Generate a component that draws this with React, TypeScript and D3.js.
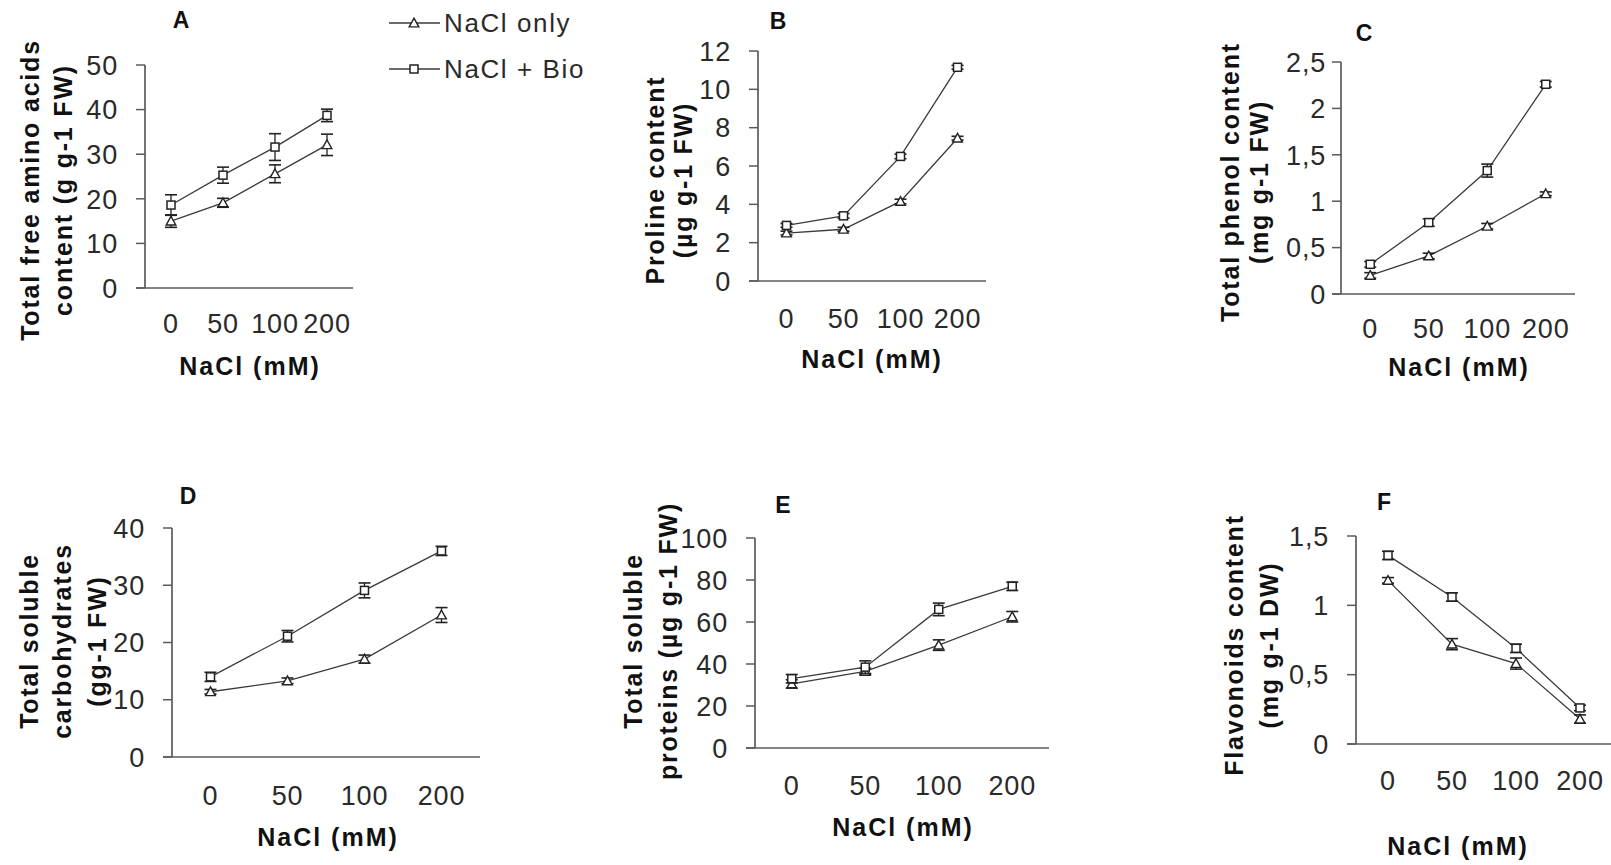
import React from "react";
import * as d3 from "d3";

const categories = ["0", "50", "100", "200"];

const aOnly = [15.0, 19.1, 25.6, 32.1];
const aOnlyErr = [1.4, 1.0, 2.0, 2.4];
const aBio = [18.6, 25.3, 31.6, 38.7];
const aBioErr = [2.3, 1.8, 3.0, 1.4];

const bOnly = [2.5, 2.7, 4.15, 7.45];
const bOnlyErr = [0.1, 0.1, 0.12, 0.1];
const bBio = [2.9, 3.4, 6.5, 11.15];
const bBioErr = [0.1, 0.12, 0.12, 0.1];

const cOnly = [0.2, 0.41, 0.73, 1.08];
const cOnlyErr = [0.03, 0.03, 0.03, 0.02];
const cBio = [0.32, 0.77, 1.33, 2.26];
const cBioErr = [0.03, 0.04, 0.07, 0.03];

const dOnly = [11.4, 13.3, 17.1, 24.8];
const dOnlyErr = [0.4, 0.5, 0.7, 1.3];
const dBio = [14.0, 21.1, 29.1, 36.0];
const dBioErr = [0.8, 1.0, 1.3, 0.8];

const eOnly = [30.5, 36.5, 49, 62.5];
const eOnlyErr = [2, 1.5, 2.5, 2.5];
const eBio = [33, 38.5, 66, 77];
const eBioErr = [2, 3, 3, 2];

const fOnly = [1.18, 0.72, 0.58, 0.18];
const fOnlyErr = [0.02, 0.04, 0.04, 0.03];
const fBio = [1.36, 1.06, 0.69, 0.26];
const fBioErr = [0.03, 0.03, 0.03, 0.02];

const aTicks = [0, 10, 20, 30, 40, 50];
const bTicks = [0, 2, 4, 6, 8, 10, 12];
const cTicks = [0, 0.5, 1, 1.5, 2, 2.5];
const dTicks = [0, 10, 20, 30, 40];
const eTicks = [0, 20, 40, 60, 80, 100];
const fTicks = [0, 0.5, 1, 1.5];

const legendLabels = ["NaCl only", "NaCl + Bio"];
const xTitle = "NaCl (mM)";

const fmt = (v: number) => d3.format("~g")(v).replace(".", ",");

type Panel = {
  title: string;
  only: number[]; onlyErr: number[]; bio: number[]; bioErr: number[];
  ticks: number[];
  yLabel: string[];
  axisX: number; y0: number; yTop: number; band: number;
  titlePos: [number, number]; xLabelPos: [number, number]; xTickY: number;
  tickGap: number; yLabelX: number[]; yLabelCy: number;
};

const panels: Panel[] = [
  { title: "A", only: aOnly, onlyErr: aOnlyErr, bio: aBio, bioErr: aBioErr, ticks: aTicks,
    yLabel: ["Total free amino  acids", "content (g g-1 FW)"],
    axisX: 145, y0: 288, yTop: 65, band: 52, titlePos: [181, 28], xLabelPos: [250, 375], xTickY: 333,
    tickGap: 27, yLabelX: [39, 72], yLabelCy: 190 },
  { title: "B", only: bOnly, onlyErr: bOnlyErr, bio: bBio, bioErr: bBioErr, ticks: bTicks,
    yLabel: ["Proline content", "(\u00b5g g-1 FW)"],
    axisX: 758, y0: 281, yTop: 51, band: 57, titlePos: [778, 29], xLabelPos: [872, 368], xTickY: 328,
    tickGap: 27, yLabelX: [664, 692], yLabelCy: 180 },
  { title: "C", only: cOnly, onlyErr: cOnlyErr, bio: cBio, bioErr: cBioErr, ticks: cTicks,
    yLabel: ["Total phenol content", "(mg g-1 FW)"],
    axisX: 1341, y0: 294, yTop: 62, band: 58.5, titlePos: [1364, 41], xLabelPos: [1459, 376], xTickY: 338,
    tickGap: 15, yLabelX: [1239, 1268], yLabelCy: 182 },
  { title: "D", only: dOnly, onlyErr: dOnlyErr, bio: dBio, bioErr: dBioErr, ticks: dTicks,
    yLabel: ["Total soluble", "carbohydrates", "(gg-1 FW)"],
    axisX: 172, y0: 757, yTop: 528, band: 77, titlePos: [188, 504], xLabelPos: [328, 846], xTickY: 805,
    tickGap: 27, yLabelX: [38, 71, 106], yLabelCy: 641 },
  { title: "E", only: eOnly, onlyErr: eOnlyErr, bio: eBio, bioErr: eBioErr, ticks: eTicks,
    yLabel: ["Total soluble", "proteins  (\u00b5g g-1 FW)"],
    axisX: 755, y0: 748, yTop: 538, band: 73.5, titlePos: [783, 513], xLabelPos: [903, 836], xTickY: 795,
    tickGap: 27, yLabelX: [642, 677], yLabelCy: 641 },
  { title: "F", only: fOnly, onlyErr: fOnlyErr, bio: fBio, bioErr: fBioErr, ticks: fTicks,
    yLabel: ["Flavonoids content", "(mg g-1 DW)"],
    axisX: 1356, y0: 744, yTop: 536, band: 64, titlePos: [1384, 510], xLabelPos: [1458, 855], xTickY: 790,
    tickGap: 27, yLabelX: [1243, 1278], yLabelCy: 645 },
];

const FONT = "'Liberation Sans', Arial, Helvetica, sans-serif";
const AXIS = "#5a5a5a";
const LINE = "#3a3a3a";
const MARK = "#222";
const TICKTXT = "#2a2a2a";

function Triangle({ x, y }: { x: number; y: number }) {
  const s = 4.8;
  return <path d={`M${x},${y - s}L${x + s},${y + s * 0.8}L${x - s},${y + s * 0.8}Z`} fill="#fff" stroke={MARK} strokeWidth={1.4} />;
}
function Square({ x, y }: { x: number; y: number }) {
  const s = 4;
  return <rect x={x - s} y={y - s} width={2 * s} height={2 * s} fill="#fff" stroke={MARK} strokeWidth={1.5} />;
}

function Series({ vals, errs, x, y, kind }: { vals: number[]; errs: number[]; x: (c: string) => number; y: d3.ScaleLinear<number, number>; kind: "tri" | "sq" }) {
  const line = d3.line<number>().x((_, i) => x(categories[i])).y((v) => y(v));
  return (
    <g>
      <path d={line(vals) || ""} fill="none" stroke={LINE} strokeWidth={1.3} />
      {vals.map((v, i) => {
        const cx = x(categories[i]);
        const hi = y(v + errs[i]);
        const lo = y(v - errs[i]);
        return (
          <g key={i}>
            <line x1={cx} x2={cx} y1={hi} y2={lo} stroke={MARK} strokeWidth={1.3} />
            <line x1={cx - 6} x2={cx + 6} y1={hi} y2={hi} stroke={MARK} strokeWidth={1.6} />
            <line x1={cx - 6} x2={cx + 6} y1={lo} y2={lo} stroke={MARK} strokeWidth={1.6} />
            {kind === "tri" ? <Triangle x={cx} y={y(v)} /> : <Square x={cx} y={y(v)} />}
          </g>
        );
      })}
    </g>
  );
}

function PanelView({ p }: { p: Panel }) {
  const y = d3.scaleLinear().domain([0, p.ticks[p.ticks.length - 1]]).range([p.y0, p.yTop]);
  const xb = d3.scaleBand().domain(categories).range([p.axisX, p.axisX + p.band * categories.length]);
  const x = (c: string) => (xb(c) as number) + xb.bandwidth() / 2;
  const right = p.axisX + p.band * categories.length;
  return (
    <g>
      <text x={p.titlePos[0]} y={p.titlePos[1]} textAnchor="middle" fontFamily={FONT} fontWeight="bold" fontSize={23} fill="#111">{p.title}</text>
      <line x1={p.axisX} x2={p.axisX} y1={p.yTop} y2={p.y0} stroke={AXIS} strokeWidth={1.7} />
      <line x1={p.axisX - 9} x2={right} y1={p.y0} y2={p.y0} stroke={AXIS} strokeWidth={1.7} />
      {p.ticks.map((t) => (
        <g key={t}>
          <line x1={p.axisX - 9} x2={p.axisX} y1={y(t)} y2={y(t)} stroke={AXIS} strokeWidth={1.5} />
          <text x={p.axisX - p.tickGap} y={y(t)} dy="0.36em" textAnchor="end" fontFamily={FONT} fontSize={27} letterSpacing={0.8} fill={TICKTXT}>{fmt(t)}</text>
        </g>
      ))}
      {categories.map((c) => (
        <text key={c} x={x(c)} y={p.xTickY} textAnchor="middle" fontFamily={FONT} fontSize={27} letterSpacing={0.8} fill={TICKTXT}>{c}</text>
      ))}
      <text x={p.xLabelPos[0]} y={p.xLabelPos[1]} textAnchor="middle" fontFamily={FONT} fontWeight="bold" fontSize={25} letterSpacing={2} fill="#111">{xTitle}</text>
      {p.yLabel.map((t, i) => (
        <text key={i} transform={`translate(${p.yLabelX[i]},${p.yLabelCy}) rotate(-90)`} textAnchor="middle" fontFamily={FONT} fontWeight="bold" fontSize={25} letterSpacing={1.8} fill="#111">{t}</text>
      ))}
      <Series vals={p.only} errs={p.onlyErr} x={x} y={y} kind="tri" />
      <Series vals={p.bio} errs={p.bioErr} x={x} y={y} kind="sq" />
    </g>
  );
}

export default function App() {
  return (
    <svg width={1611} height={865} style={{ position: "absolute", left: 0, top: 0, background: "#fff" }}>
      <rect width={1611} height={865} fill="#fff" />
      {panels.map((p) => <PanelView key={p.title} p={p} />)}
      {legendLabels.map((l, i) => {
        const ly = i === 0 ? 23 : 69;
        return (
          <g key={l}>
            <line x1={389} x2={440} y1={ly} y2={ly} stroke={LINE} strokeWidth={1.3} />
            {i === 0 ? <Triangle x={414} y={ly} /> : <Square x={414} y={ly} />}
            <text x={444} y={ly + 9} fontFamily={FONT} fontSize={26} letterSpacing={1.6} fill={TICKTXT}>{l}</text>
          </g>
        );
      })}
    </svg>
  );
}
